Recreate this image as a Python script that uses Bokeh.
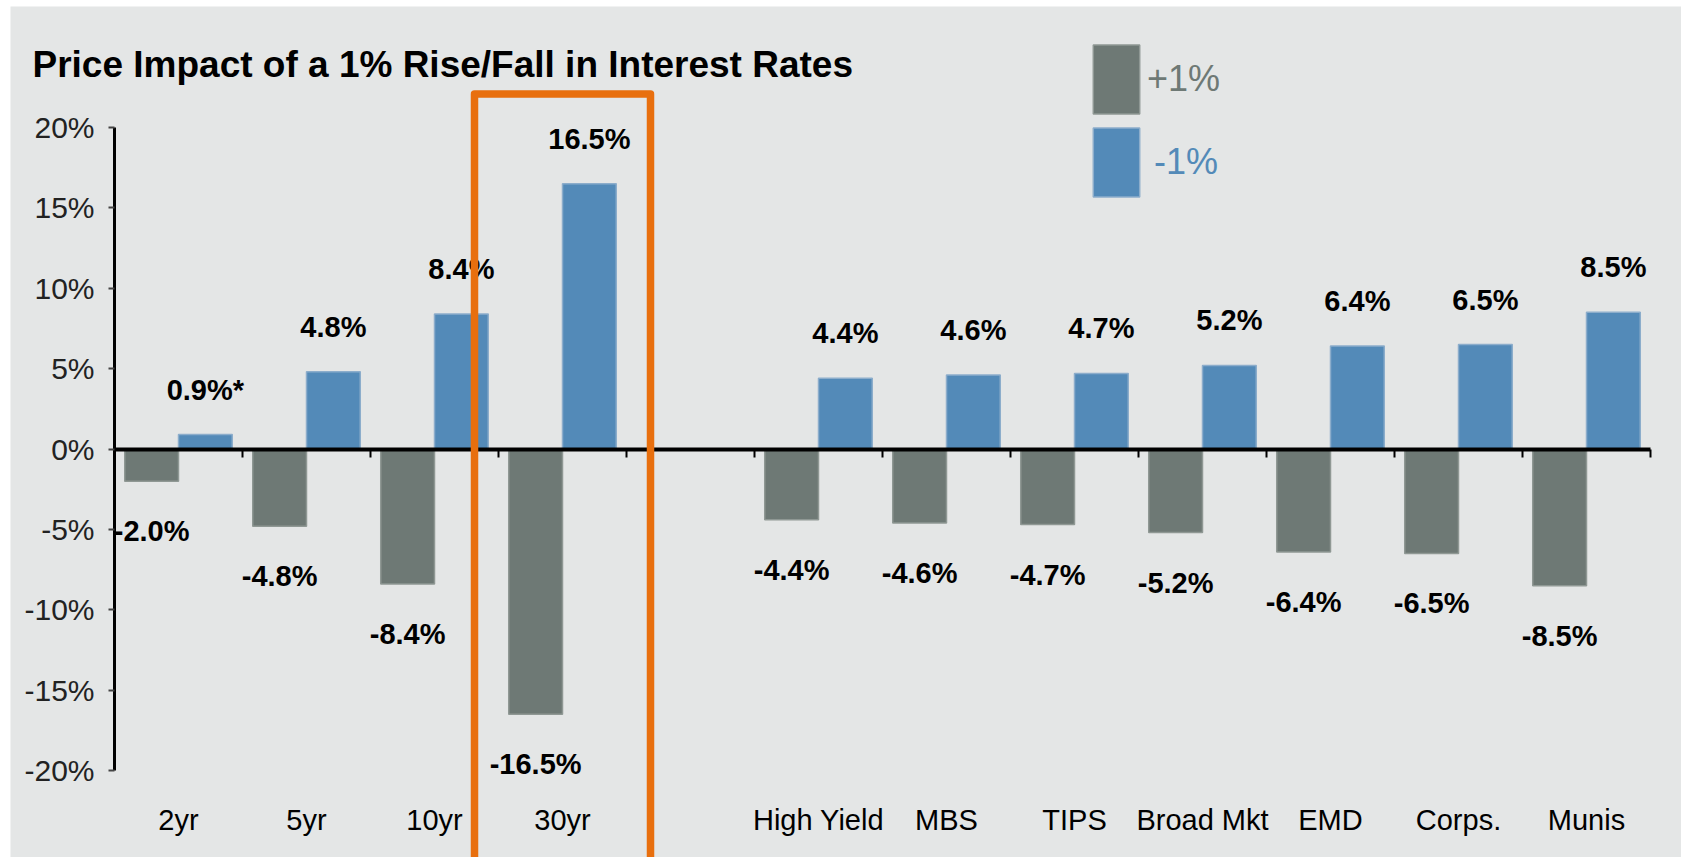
from bokeh.plotting import figure
from bokeh.models import (Range1d, FixedTicker, PrintfTickFormatter, ColumnDataSource,
                          LabelSet, Label, Legend, LegendItem, PolyAnnotation, LinearAxis)
from bokeh.embed import file_html
from bokeh.resources import INLINE
from bokeh.core.properties import value

# ---------------- data ----------------
title_text = "Price Impact of a 1% Rise/Fall in Interest Rates"
categories = ["2yr", "5yr", "10yr", "30yr", "High Yield", "MBS", "TIPS",
              "Broad Mkt", "EMD", "Corps.", "Munis"]
rise_1pct = [-2.0, -4.8, -8.4, -16.5, -4.4, -4.6, -4.7, -5.2, -6.4, -6.5, -8.5]
fall_1pct = [0.9, 4.8, 8.4, 16.5, 4.4, 4.6, 4.7, 5.2, 6.4, 6.5, 8.5]
rise_labels = ["-2.0%", "-4.8%", "-8.4%", "-16.5%", "-4.4%", "-4.6%", "-4.7%",
               "-5.2%", "-6.4%", "-6.5%", "-8.5%"]
fall_labels = ["0.9%*", "4.8%", "8.4%", "16.5%", "4.4%", "4.6%", "4.7%",
               "5.2%", "6.4%", "6.5%", "8.5%"]
legend_labels = ["+1%", "-1%"]
y_ticks = [-20, -15, -10, -5, 0, 5, 10, 15, 20]
gap_after = "30yr"        # an empty slot separates Treasuries from sectors
highlight = "30yr"        # orange outline

# ---------------- style / layout ----------------
FONT = "Liberation Sans"
BG = "#e4e6e6"
GRAY = "#6e7975"
GRAY_EDGE = "#8f9894"
BLUE = "#538ab8"
BLUE_EDGE = "#8cadcb"
ORANGE = "#e86f0e"

W, H = 1681, 857
PAD_L, PAD_T = 10, 6          # white strip left / top
AXIS_X = 114                  # pixel of the y axis
SLOT = 128                    # pixel width of one category slot
Y_TOP_PX, Y_BOT_PX = 127, 770  # pixels of the top / bottom y tick

# slot positions (one empty slot after gap_after)
pos = []
slot = 0
for c in categories:
    pos.append(slot + 0.5)
    slot += 1
    if c == gap_after:
        slot += 1
n_slots = slot

PX = (Y_BOT_PX - Y_TOP_PX) / (y_ticks[-1] - y_ticks[0])
y_hi = y_ticks[-1] + (Y_TOP_PX - PAD_T) / PX
y_lo = y_ticks[0] - (H - Y_BOT_PX) / PX
x_lo = -(AXIS_X - PAD_L) / SLOT
x_hi = x_lo + (W - PAD_L) / SLOT

def ypix(px):  # data y of a pixel row (for text placement only)
    return y_ticks[-1] - (px - Y_TOP_PX) / PX

OFF = 0.21
BW = 0.42

p = figure(width=W, height=H, output_backend="svg", toolbar_location=None,
           x_range=Range1d(x_lo, x_hi), y_range=Range1d(y_lo, y_hi),
           x_axis_location=None, y_axis_location=None,
           min_border=0, min_border_left=PAD_L, min_border_top=PAD_T)
p.background_fill_color = BG
p.border_fill_color = "white"
p.outline_line_color = None
p.xgrid.visible = False
p.ygrid.visible = False

# y axis, fixed at the left edge of the first slot
ya = LinearAxis(fixed_location=0, bounds=(y_ticks[0], y_ticks[-1]),
                ticker=FixedTicker(ticks=y_ticks),
                formatter=PrintfTickFormatter(format="%d%%"))
ya.axis_line_color = "black"
ya.axis_line_width = 3
ya.major_tick_in = 0
ya.major_tick_out = 6
ya.major_tick_line_color = "#444444"
ya.major_tick_line_width = 2
ya.minor_tick_line_color = None
ya.major_label_standoff = 14
ya.major_label_text_font = FONT
ya.major_label_text_font_size = "30px"
ya.major_label_text_color = "#222222"
p.add_layout(ya, "left")

# zero line with category boundary ticks
bounds = list(range(1, n_slots + 1))
xz = LinearAxis(fixed_location=0, bounds=(0, n_slots), ticker=FixedTicker(ticks=bounds))
xz.major_label_overrides = {b: "" for b in bounds}
xz.major_label_text_font_size = "0px"
xz.axis_line_color = "black"
xz.axis_line_width = 4
xz.major_tick_in = 0
xz.major_tick_out = 8
xz.major_tick_line_color = "black"
xz.major_tick_line_width = 2
xz.minor_tick_line_color = None
p.add_layout(xz, "below")

# category axis (labels only) under the -20% line
xa = LinearAxis(fixed_location=y_ticks[0], ticker=FixedTicker(ticks=pos))
xa.major_label_overrides = {x: c for x, c in zip(pos, categories)}
xa.axis_line_color = None
xa.major_tick_line_color = None
xa.minor_tick_line_color = None
xa.major_tick_out = 0
xa.major_tick_in = 0
xa.major_label_standoff = 33
xa.major_label_text_font = FONT
xa.major_label_text_font_size = "29px"
xa.major_label_text_color = "black"
p.add_layout(xa, "below")

# bars
src_rise = ColumnDataSource(dict(x=[v - OFF for v in pos], top=rise_1pct,
                                 ly=rise_1pct, text=rise_labels))
src_fall = ColumnDataSource(dict(x=[v + OFF for v in pos], top=fall_1pct,
                                 ly=fall_1pct, text=fall_labels))
r_rise = p.vbar(x="x", top="top", bottom=0, width=BW, source=src_rise,
                fill_color=GRAY, line_color=GRAY_EDGE, line_width=1.5)
r_fall = p.vbar(x="x", top="top", bottom=0, width=BW, source=src_fall,
                fill_color=BLUE, line_color=BLUE_EDGE, line_width=1.5)

# value labels
p.add_layout(LabelSet(x="x", y="ly", text="text", source=src_fall, text_align="center",
                      text_baseline="alphabetic", y_offset=35, text_font=value(FONT),
                      text_font_style="bold", text_font_size="29px", text_color="black"))
p.add_layout(LabelSet(x="x", y="ly", text="text", source=src_rise, text_align="center",
                      text_baseline="alphabetic", y_offset=-60, text_font=value(FONT),
                      text_font_style="bold", text_font_size="29px", text_color="black"))

# title
p.add_layout(Label(x=(32 - AXIS_X) / SLOT, y=ypix(64), text=title_text, text_font=FONT,
                   text_font_style="bold", text_font_size="37px", text_color="black",
                   text_baseline="middle"))

# highlight box around the 30yr group
hx = pos[categories.index(highlight)]
hw = 0.6875
p.add_layout(PolyAnnotation(xs=[hx - hw, hx + hw, hx + hw, hx - hw],
                            ys=[ypix(93.5), ypix(93.5), y_lo - 10, y_lo - 10],
                            line_color=ORANGE, line_alpha=1.0, line_width=7.5,
                            line_join="round", fill_color=None, fill_alpha=0))

# legends (one per series so each label keeps its series colour)
for lab, rend, col, bottom_px, stand in [(legend_labels[0], r_rise, GRAY, 121.6, 2),
                                         (legend_labels[1], r_fall, BLUE, 205, 9)]:
    leg = Legend(items=[LegendItem(label=lab, renderers=[rend])],
                 location=(1087 - PAD_L, H - bottom_px),
                 glyph_width=58, glyph_height=86, label_standoff=stand,
                 label_text_font=FONT, label_text_font_size="36px", label_text_color=col,
                 border_line_color=None, background_fill_alpha=0, padding=0, margin=0,
                 spacing=0)
    p.add_layout(leg)

open("out.html", "w").write(file_html(p, INLINE))
